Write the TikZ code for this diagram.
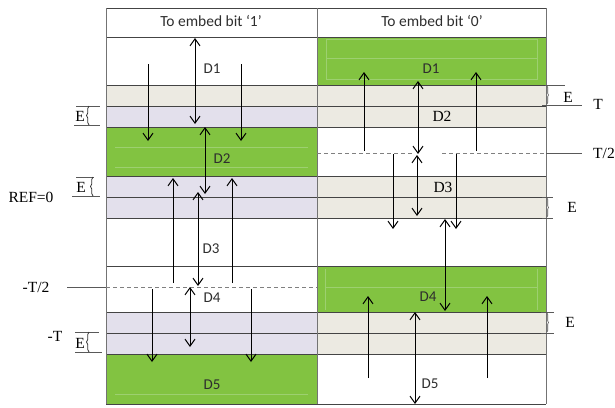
\documentclass[tikz,border=0pt]{standalone}
\usepackage{fontspec}
\setmainfont{Liberation Serif}
\newfontfamily\carl{Carlito}
\usetikzlibrary{arrows.meta,decorations.pathreplacing}
\definecolor{grn}{HTML}{82C341}
\definecolor{grnln}{HTML}{9DD070}
\definecolor{beige}{HTML}{ECEAE2}
\definecolor{lav}{HTML}{E3E0EC}
\definecolor{rowln}{HTML}{444444}
\definecolor{txtg}{HTML}{2E2E2E}
\begin{document}
\begin{tikzpicture}[x=1pt,y=-1pt,
  rowline/.style={draw=rowln,line width=0.7pt},
  colline/.style={draw=black!55,line width=0.7pt},
  refline/.style={draw=black!65,line width=0.7pt},
  dashline/.style={draw=black!50,line width=0.8pt,dash pattern=on 4pt off 3pt},
  inner/.style={draw=grnln,line width=0.5pt},
  arr/.style={draw=black,line width=1pt,-{Straight Barb[length=7pt,width=10pt,line width=1pt]}},
  darr/.style={draw=black,line width=1pt,{Straight Barb[length=7pt,width=10pt,line width=1pt]}-{Straight Barb[length=7pt,width=10pt,line width=1pt]}},
  hdr/.style={font=\carl\fontsize{15.5}{16}\selectfont,text=txtg},
  dlab/.style={font=\carl\fontsize{15}{15}\selectfont,text=txtg,inner sep=1pt},
  slab/.style={font=\fontsize{15.5}{16}\selectfont,text=black,inner sep=1pt},
  ebrace/.style={draw=black!80,line width=0.7pt,decorate,decoration={brace,amplitude=2.5pt}},
  rbrace/.style={draw=black!70,line width=0.6pt,decorate,decoration={brace,amplitude=1.5pt}}
]
\useasboundingbox (0,0) rectangle (615,407);
% fills left column
\fill[beige] (106,85) rectangle (317,106);
\fill[lav] (106,106) rectangle (317,127);
\fill[grn] (106,127) rectangle (317,176);
\fill[lav] (106,176) rectangle (317,218);
\fill[lav] (106,312) rectangle (317,354);
\fill[grn] (106,354) rectangle (317,404);
% fills right column
\fill[grn] (317,37) rectangle (546,85);
\fill[beige] (317,85) rectangle (546,127);
\fill[beige] (317,176) rectangle (546,218);
\fill[grn] (317,266) rectangle (546,312);
\fill[beige] (317,312) rectangle (546,354);
% faint inner lines of green blocks
\draw[inner] (115,147) -- (308,147) (115,167) -- (308,167);
\draw[inner] (326,39) rectangle (537,79) (326,58) -- (537,58);
\draw[inner] (325,269) -- (325,310) (537,269) -- (537,310) (325,287) -- (537,287);
\draw[inner] (115,394) -- (308,394);
% row lines
\foreach \yy in {8,37,85,106,127,176,197,218,266,312,333,354,404}
  \draw[rowline] (106,\yy) -- (546,\yy);
% column lines
\draw[colline] (106,8) -- (106,404) (317,8) -- (317,404) (546,8) -- (546,404);
% dashed levels
\draw[dashline] (106,287) -- (317,287);
\draw[dashline] (317,153) -- (412,153) (442,153) -- (546,153);
% reference lines
\draw[refline] (67,287) -- (106,287);
\draw[refline] (546,153) -- (582,153);
\draw[refline] (542,105) -- (582,105);
\draw[refline] (545,85) -- (565,85);
% left E markers
\draw[refline] (76,106) -- (100,106) (74,125) -- (100,125);
\draw[ebrace] (89,125) -- (89,106);
\draw[refline] (76,177) -- (94,177) (72,196) -- (100,196);
\draw[ebrace] (93,196) -- (93,177);
\draw[refline] (75,332) -- (99,332) (75,352) -- (102,352);
\draw[ebrace] (89,352) -- (89,332);
% right E markers
\draw[rbrace] (547,86) -- (547,104);
\draw[refline] (542,197) -- (553,197) (542,218) -- (553,218);
\draw[rbrace] (547,198) -- (547,217);
\draw[refline] (541,312) -- (554,312) (541,333) -- (554,333);
\draw[rbrace] (547,313) -- (547,332);
% header texts
\node[hdr] (h1) at (211,21) {To embed bit ‘1’};
\node[hdr] (h0) at (432,21) {To embed bit ‘0’};
% D labels left
\node[dlab] (l1) at (212,69) {D1};
\node[dlab] (l2) at (222,159) {D2};
\node[dlab] (l3) at (211,249) {D3};
\node[dlab] (l4) at (212,298) {D4};
\node[dlab] (l5) at (212,385) {D5};
% D labels right
\node[dlab] (r1) at (431,69) {D1};
\node[slab] (r2) at (442,116) {D2};
\node[slab] (r3) at (443,187) {D3};
\node[dlab] (r4) at (428,297) {D4};
\node[dlab] (r5) at (430,384) {D5};
% side labels
\node[slab] (ref) at (31,197) {REF=0};
\node[slab] (mt2) at (36,287) {-T/2};
\node[slab] (mt) at (55,336) {-T};
\node[slab] (e1) at (80,116) {E};
\node[slab] (e2) at (81,187) {E};
\node[slab] (e3) at (80,343) {E};
\node[slab] (e4) at (568,97) {E};
\node[slab] (tt) at (598,104) {T};
\node[slab] (t2) at (604,153) {T/2};
\node[slab] (e5) at (572,207) {E};
\node[slab] (e6) at (570,322) {E};
% arrow end points, left column
\coordinate (A1) at (195,38);  \coordinate (A2) at (195,124);
\coordinate (B1) at (148,64);  \coordinate (B2) at (148,141);
\coordinate (C1) at (241,64);  \coordinate (C2) at (241,141);
\coordinate (D1) at (205,127); \coordinate (D2) at (205,194);
\coordinate (E1) at (173,283); \coordinate (E2) at (173,178);
\coordinate (F1) at (232,283); \coordinate (F2) at (232,178);
\coordinate (G1) at (198,192); \coordinate (G2) at (198,286);
\coordinate (H1) at (190,287); \coordinate (H2) at (190,347);
\coordinate (I1) at (152,289); \coordinate (I2) at (152,362);
\coordinate (J1) at (251,289); \coordinate (J2) at (251,362);
% arrow end points, right column
\coordinate (K1) at (364,151); \coordinate (K2) at (364,72);
\coordinate (L1) at (476,151); \coordinate (L2) at (476,72);
\coordinate (M1) at (418,81);  \coordinate (M2) at (418,154);
\coordinate (N1) at (393,154); \coordinate (N2) at (393,229);
\coordinate (P1) at (456,154); \coordinate (P2) at (456,229);
\coordinate (Q1) at (417,155); \coordinate (Q2) at (417,216);
\coordinate (R1) at (445,219); \coordinate (R2) at (445,311);
\coordinate (S1) at (368,378); \coordinate (S2) at (368,296);
\coordinate (U1) at (487,378); \coordinate (U2) at (487,296);
\coordinate (V1) at (415,312); \coordinate (V2) at (415,404);
% arrows
\draw[darr] (A1) -- (A2);
\draw[arr] (B1) -- (B2);
\draw[arr] (C1) -- (C2);
\draw[darr] (D1) -- (D2);
\draw[arr] (E1) -- (E2);
\draw[arr] (F1) -- (F2);
\draw[darr] (G1) -- (G2);
\draw[darr] (H1) -- (H2);
\draw[arr] (I1) -- (I2);
\draw[arr] (J1) -- (J2);
\draw[arr] (K1) -- (K2);
\draw[arr] (L1) -- (L2);
\draw[darr] (M1) -- (M2);
\draw[arr] (N1) -- (N2);
\draw[arr] (P1) -- (P2);
\draw[darr] (Q1) -- (Q2);
\draw[darr] (R1) -- (R2);
\draw[arr] (S1) -- (S2);
\draw[arr] (U1) -- (U2);
\draw[darr] (V1) -- (V2);
\end{tikzpicture}
\end{document}
